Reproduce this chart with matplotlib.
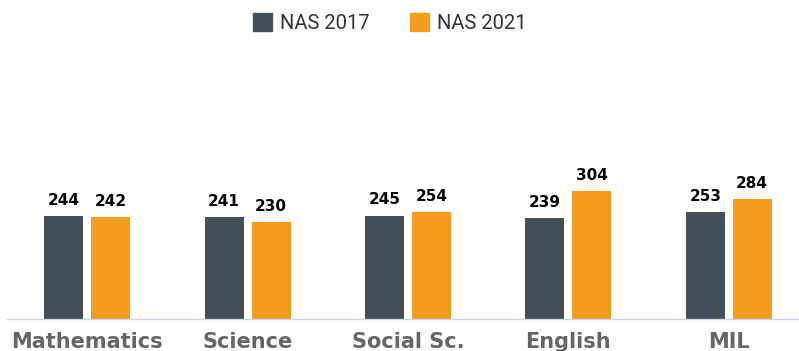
import matplotlib
matplotlib.use("Agg")
import matplotlib.pyplot as plt
import matplotlib.patches as mpatches
import numpy as np

# Subject-wise average scores
subjects = ["Mathematics", "Science", "Social Sc.", "English", "MIL"]
nas_2017 = [244, 241, 245, 239, 253]
nas_2021 = [242, 230, 254, 304, 284]
series_names = ["NAS 2017", "NAS 2021"]
colors = ["#434f59", "#f69c1e"]

plt.rcParams["font.family"] = "DejaVu Sans"

fig = plt.figure(figsize=(7.99, 3.51), dpi=100)
ax = fig.add_axes([7 / 799, (351 - 319) / 351, 802 / 799, 254 / 351])

x = np.arange(len(subjects))
w = 0.243
off = 0.146
b1 = ax.bar(x - off, nas_2017, w, color=colors[0])
b2 = ax.bar(x + off, nas_2021, w, color=colors[1])

for bars, vals in ((b1, nas_2017), (b2, nas_2021)):
    for rect, v in zip(bars, vals):
        ax.annotate(str(v), (rect.get_x() + rect.get_width() / 2, v),
                    xytext=(0, 6), textcoords="offset points",
                    ha="center", va="bottom", fontsize=11,
                    fontweight="bold", color="black")

ax.set_xlim(-0.5, 4.5)
ax.set_ylim(0, 603)
ax.set_xticks(x)
ax.set_xticklabels(subjects, fontsize=15, fontweight="bold", color="#666666")
ax.tick_params(axis="x", length=0, pad=9)
ax.set_yticks([])
for side in ("top", "right", "left"):
    ax.spines[side].set_visible(False)
ax.spines["bottom"].set_color("#ccd6eb")
ax.spines["bottom"].set_linewidth(1)

handles = [mpatches.Patch(color=c, label=n) for c, n in zip(colors, series_names)]
fig.legend(handles=handles, loc="center", bbox_to_anchor=(390 / 799, 1 - 23 / 351),
           ncol=2, frameon=False, prop={"family": "Roboto", "size": 14.5},
           labelcolor="#333333", handlelength=0.95, handleheight=0.95,
           handletextpad=0.4, columnspacing=2.0)

fig.savefig("out.png", dpi=100)
